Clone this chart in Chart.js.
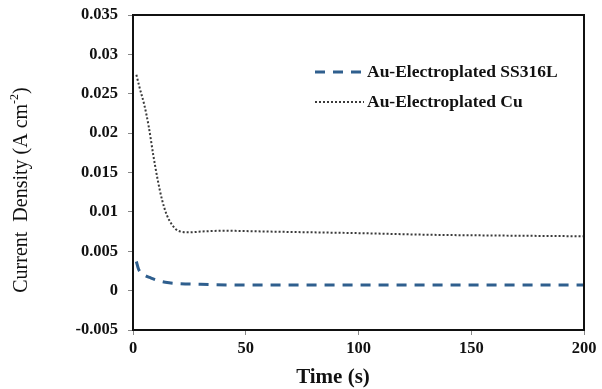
<!DOCTYPE html>
<html>
<head>
<meta charset="utf-8">
<script src="https://cdn.jsdelivr.net/npm/chart.js@4.4.1/dist/chart.umd.min.js"></script>
<style>
  html, body { margin: 0; padding: 0; background: #fff; }
  #wrap { width: 602px; height: 389px; }
</style>
</head>
<body>
<div id="wrap"><canvas id="chart" width="602" height="389"></canvas></div>
<script>
// Data
const seriesNames = ['Au-Electroplated SS316L', 'Au-Electroplated Cu'];
const timeSS = [1.5, 2.5, 5, 8, 12, 16, 20, 30, 50, 100, 150, 200];
const currentSS = [0.0037, 0.0027, 0.0020, 0.0016, 0.0012, 0.0010, 0.0009, 0.0008, 0.0007, 0.0007, 0.0007, 0.0007];
const timeCu = [1.5, 3, 5, 7, 9, 11, 13, 15, 17, 19, 21, 25, 30, 40, 60, 80, 100, 130, 160, 200];
const currentCu = [0.0274, 0.0257, 0.0236, 0.0208, 0.0172, 0.0140, 0.0114, 0.0096, 0.0085, 0.0078, 0.0075, 0.0074, 0.0075, 0.0076, 0.0075, 0.0074, 0.0073, 0.0071, 0.0070, 0.0069];
const xTicks = [0, 50, 100, 150, 200];
const yTicks = [-0.005, 0, 0.005, 0.01, 0.015, 0.02, 0.025, 0.03, 0.035];

const serif = "'Liberation Serif', 'Times New Roman', serif";

function toPoints(xs, ys) {
  return xs.map((x, i) => ({ x: x, y: ys[i] }));
}

// Frame, axis titles and legend
const decorations = {
  id: 'decorations',
  afterDraw(chart) {
    const ctx = chart.ctx;
    const a = chart.chartArea;
    ctx.save();

    // box round the plot
    ctx.strokeStyle = '#111';
    ctx.lineWidth = 2;
    ctx.strokeRect(a.left, a.top, a.right - a.left, a.bottom - a.top);

    // x title
    ctx.fillStyle = '#111';
    ctx.font = 'bold 21px ' + serif;
    ctx.textAlign = 'center';
    ctx.textBaseline = 'middle';
    ctx.fillText('Time (s)', 333, 378);

    // y title with superscript
    ctx.translate(22, 190);
    ctx.rotate(-Math.PI / 2);
    const main = 'Current  Density (A cm';
    const sup = '-2';
    const tail = ')';
    ctx.font = '20px ' + serif;
    const wMain = ctx.measureText(main).width;
    const wTail = ctx.measureText(tail).width;
    ctx.font = '12px ' + serif;
    const wSup = ctx.measureText(sup).width;
    let x0 = -(wMain + wSup + wTail) / 2;
    ctx.textAlign = 'left';
    ctx.font = '20px ' + serif;
    ctx.fillText(main, x0, 0);
    ctx.font = '12px ' + serif;
    ctx.fillText(sup, x0 + wMain, -7);
    ctx.font = '20px ' + serif;
    ctx.fillText(tail, x0 + wMain + wSup, 0);
    ctx.setTransform(1, 0, 0, 1, 0, 0);

    // legend
    const lx = a.left + 182;
    const rows = [a.top + 57, a.top + 87];
    chart.data.datasets.forEach((ds, i) => {
      const y = rows[i];
      ctx.strokeStyle = ds.borderColor;
      ctx.lineWidth = ds.borderWidth;
      ctx.setLineDash(ds.borderDash);
      ctx.beginPath();
      ctx.moveTo(lx, y);
      ctx.lineTo(lx + 49, y);
      ctx.stroke();
      ctx.setLineDash([]);
      ctx.fillStyle = '#111';
      ctx.font = 'bold 17.5px ' + serif;
      ctx.textBaseline = 'middle';
      ctx.textAlign = 'left';
      ctx.fillText(ds.label, lx + 52, y);
    });
    ctx.restore();
  }
};

new Chart(document.getElementById('chart'), {
  type: 'scatter',
  data: {
    datasets: [
      {
        label: seriesNames[0],
        data: toPoints(timeSS, currentSS),
        showLine: true,
        borderColor: '#2f5f8e',
        borderWidth: 3,
        borderDash: [10, 8],
        pointRadius: 0,
        cubicInterpolationMode: 'monotone'
      },
      {
        label: seriesNames[1],
        data: toPoints(timeCu, currentCu),
        showLine: true,
        borderColor: '#3a3a3a',
        borderWidth: 2,
        borderDash: [2, 2],
        pointRadius: 0,
        cubicInterpolationMode: 'monotone'
      }
    ]
  },
  options: {
    responsive: false,
    animation: false,
    layout: { padding: { top: 15, right: 18, left: 0, bottom: 0 } },
    plugins: {
      legend: { display: false },
      tooltip: { enabled: false }
    },
    scales: {
      x: {
        type: 'linear',
        min: 0,
        max: 200,
        afterBuildTicks(axis) { axis.ticks = xTicks.map(v => ({ value: v })); },
        afterFit(axis) { axis.height = 59; axis.paddingLeft = 0; axis.paddingRight = 0; },
        grid: { drawOnChartArea: false, drawTicks: true, tickLength: 5, tickColor: '#888' },
        border: { color: '#111', width: 2 },
        ticks: {
          padding: 4,
          color: '#111',
          font: { family: serif, size: 16.5, weight: 'bold' }
        }
      },
      y: {
        type: 'linear',
        min: -0.005,
        max: 0.035,
        afterBuildTicks(axis) { axis.ticks = yTicks.map(v => ({ value: v })); },
        afterFit(axis) { axis.width = 133; axis.paddingTop = 0; axis.paddingBottom = 0; },
        grid: { drawOnChartArea: false, drawTicks: true, tickLength: 5, tickColor: '#888' },
        border: { color: '#111', width: 2 },
        ticks: {
          padding: 10,
          color: '#111',
          font: { family: serif, size: 16.5, weight: 'bold' },
          callback: v => String(parseFloat(v.toFixed(3)))
        }
      }
    }
  },
  plugins: [decorations]
});
</script>
</body>
</html>
